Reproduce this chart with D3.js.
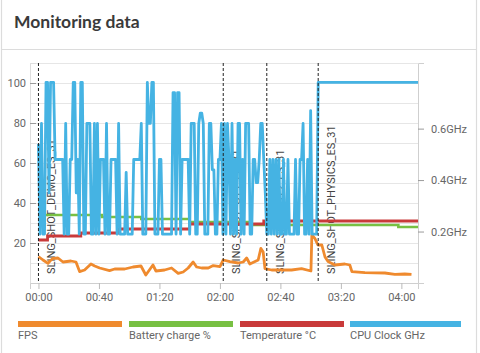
<!DOCTYPE html>
<html><head><meta charset="utf-8">
<script src="https://cdn.jsdelivr.net/npm/d3@7"></script>
<style>
html,body{margin:0;padding:0;background:#fff;}
svg{display:block;}
</style></head>
<body><svg id="c" width="480" height="353"></svg>
<script>
// ---- data ----
const title = "Monitoring data";
const xTickMinutes = [0, 40, 80, 120, 160, 200, 240];
const leftTicks = [20, 40, 60, 80, 100];
const rightTicks = [0.2, 0.4, 0.6];
const seriesNames = ["FPS", "Battery charge %", "Temperature °C", "CPU Clock GHz"];
const seriesColors = ["#ef8a2e", "#78c043", "#c93a3a", "#45b3e3"];

const markerMinutes = [0, 122.2, 151, 185];
const markerLabels = ["SLING_SHOT_DEMO_ES_31", "SLING_SHOT_GT1_ES_31", "SLING_SHOT_GT2_ES_31", "SLING_SHOT_PHYSICS_ES_31"];

const fpsMinutes = [0,3,6.3,7.6,9.6,12.9,16.2,21.5,24.8,27.2,30.5,34.7,37.2,40.5,47,50.4,57,62.5,67.8,71,75.7,77.7,83.4,88,92.4,95.7,99,102.3,104.6,107.9,112.3,115.6,120,122.2,126.6,132.1,135.4,137.7,139.8,145.3,147.1,148.6,149.8,154.2,159.7,167.4,174,180.2,180.8,182.8,184.8,187.4,189.5,191.5,196,202.6,205.9,207.3,215.9,229.1,235.7,242.3,246.7];
const fpsValues  = [13.2,11.5,9.8,11,12.3,12.5,10.5,11,10.5,5.7,6.5,9.5,8.5,7.5,6.2,7,7,8,8.5,4,9,6,6.5,7.5,4.8,5.5,7.5,10.5,8,7.5,7.5,8.7,8.2,11.5,10.7,10,10.5,12.5,9.5,11.5,17.3,15.5,7.2,6.5,6.5,6.5,7.2,6,24,22.3,19,19,13,10.7,9,9.5,9,5.7,5.2,5,4.3,4.5,4.3];

const batteryMinutes = [0, 42, 68, 100, 140, 238, 251];
const batteryValues  = [34, 33, 32, 30.5, 29, 28, 28];

const tempMinutes = [0, 6, 28, 53, 100, 149, 251];
const tempValues  = [21.5, 23.5, 25, 27, 29.5, 31, 31];

// CPU clock (GHz), one sample per minute from 00:00, last value held to the end
const cpuSampleStepMin = 1;
const cpuEndMinute = 251;
const cpuValues = [
0.54,0.19,0.62,0.19,0.19,0.78,0.78,0.35,0.78,0.78,
0.78,0.48,0.48,0.48,0.48,0.48,0.48,0.19,0.62,0.19,
0.19,0.48,0.48,0.78,0.78,0.35,0.48,0.19,0.78,0.78,
0.19,0.19,0.62,0.62,0.62,0.19,0.19,0.62,0.19,0.62,
0.19,0.48,0.48,0.48,0.19,0.62,0.19,0.19,0.48,0.48,
0.48,0.48,0.19,0.62,0.19,0.19,0.19,0.19,0.43,0.19,
0.19,0.19,0.19,0.48,0.48,0.48,0.48,0.48,0.62,0.19,
0.19,0.19,0.78,0.62,0.62,0.78,0.78,0.19,0.19,0.19,
0.48,0.48,0.19,0.19,0.19,0.19,0.19,0.19,0.19,0.74,
0.74,0.19,0.74,0.74,0.19,0.48,0.48,0.48,0.48,0.48,
0.19,0.62,0.62,0.62,0.19,0.19,0.62,0.66,0.66,0.62,
0.19,0.19,0.19,0.62,0.62,0.44,0.44,0.19,0.19,0.48,
0.48,0.62,0.19,0.62,0.19,0.62,0.48,0.19,0.62,0.19,
0.48,0.19,0.62,0.62,0.19,0.48,0.19,0.62,0.62,0.62,
0.19,0.19,0.48,0.48,0.39,0.39,0.48,0.62,0.62,0.48,
0.35,0.19,0.19,0.48,0.19,0.48,0.19,0.48,0.19,0.48,
0.19,0.19,0.48,0.19,0.19,0.48,0.19,0.19,0.19,0.19,
0.48,0.19,0.19,0.48,0.48,0.62,0.19,0.19,0.48,0.19,
0.67,0.19,0.19,0.19,0.19,0.78];

// ---- drawing ----
const svg = d3.select("#c");
const W = 480, H = 353;
const plot = {left: 30, right: 418, top: 63, bottom: 283};

// card
svg.append("rect").attr("x", 1.5).attr("y", -2).attr("width", 475).attr("height", H + 4)
  .attr("fill", "#fff").attr("stroke", "#dcdcdc").attr("stroke-width", 1.2);
svg.append("line").attr("x1", 1.5).attr("x2", 476.5).attr("y1", 49.5).attr("y2", 49.5)
  .attr("stroke", "#dcdcdc").attr("stroke-width", 1.2);
svg.append("text").attr("x", 14).attr("y", 28).text(title)
  .attr("font-family", "Lato, 'Open Sans', sans-serif").attr("font-weight", 700)
  .attr("font-size", 17.5).attr("fill", "#3a3a3a");

const x = d3.scaleLinear().domain([-5.6, 251]).range([plot.left, plot.right]);
const yL = d3.scaleLinear().domain([0, 110]).range([plot.bottom, plot.top]);
const yR = d3.scaleLinear().domain([0, 0.855]).range([plot.bottom, plot.top]);

const fontAxis = "Roboto, 'Noto Sans', sans-serif";

// horizontal gridlines every 10
svg.append("g").selectAll("line").data(d3.range(10, 111, 10)).join("line")
  .attr("x1", plot.left).attr("x2", plot.right)
  .attr("y1", d => Math.round(yL(d)) + 0.5).attr("y2", d => Math.round(yL(d)) + 0.5)
  .attr("stroke", "#e6e6e6").attr("stroke-width", 1);

// left axis
const gL = svg.append("g").attr("transform", `translate(${plot.left},0)`)
  .call(d3.axisLeft(yL).tickValues(leftTicks).tickSize(-6).tickPadding(4));
gL.select(".domain").attr("stroke", "#dedede");
gL.selectAll(".tick line").attr("stroke", "#9a9a9a");
gL.selectAll("text").attr("font-family", fontAxis).attr("font-size", 11).attr("fill", "#666");

// bottom axis
const fmt = m => String(Math.floor(m / 60)).padStart(2, "0") + ":" + String(m % 60).padStart(2, "0");
const gB = svg.append("g").attr("transform", `translate(0,${plot.bottom})`)
  .call(d3.axisBottom(x).tickValues(xTickMinutes).tickFormat(fmt).tickSize(6).tickPadding(4));
gB.select(".domain").attr("stroke", "#cfcfcf");
gB.selectAll(".tick line").attr("stroke", "#bbb");
gB.selectAll("text").attr("font-family", fontAxis).attr("font-size", 11).attr("fill", "#666");

// right axis
const gR = svg.append("g").attr("transform", `translate(${plot.right},0)`)
  .call(d3.axisRight(yR).tickValues(rightTicks).tickFormat(d => d + "GHz").tickSize(6).tickPadding(7));
gR.select(".domain").attr("stroke", "#cfcfcf");
gR.selectAll(".tick line").attr("stroke", "#9a9a9a");
gR.selectAll("text").attr("font-family", fontAxis).attr("font-size", 11).attr("fill", "#666");

// marker labels (under series)
svg.append("g").selectAll("text").data(markerMinutes).join("text")
  .attr("transform", d => `translate(${x(d) + 17},274) rotate(-90)`)
  .text((d, i) => markerLabels[i])
  .attr("font-family", fontAxis).attr("font-size", 11).attr("fill", "#444");

// series
const lineL = (ts, vs, curve) => d3.line().x((d, i) => x(ts[i])).y(d => yL(d)).curve(curve)(vs);
svg.append("path").attr("d", lineL(fpsMinutes, fpsValues, d3.curveLinear))
  .attr("fill", "none").attr("stroke", seriesColors[0]).attr("stroke-width", 2.8).attr("stroke-linejoin", "round");
svg.append("path").attr("d", lineL(batteryMinutes, batteryValues, d3.curveStepAfter))
  .attr("fill", "none").attr("stroke", seriesColors[1]).attr("stroke-width", 2.6);
svg.append("path").attr("d", lineL(tempMinutes, tempValues, d3.curveStepAfter))
  .attr("fill", "none").attr("stroke", seriesColors[2]).attr("stroke-width", 2.8);

const cpuPts = cpuValues.map((v, i) => [i * cpuSampleStepMin, v]);
cpuPts.push([cpuEndMinute, cpuValues[cpuValues.length - 1]]);
svg.append("path")
  .attr("d", d3.line().x(d => x(d[0])).y(d => yR(d[1]))(cpuPts))
  .attr("fill", "none").attr("stroke", seriesColors[3]).attr("stroke-width", 2.8).attr("stroke-linejoin", "round");

// marker lines
svg.append("g").selectAll("line").data(markerMinutes).join("line")
  .attr("x1", d => x(d)).attr("x2", d => x(d)).attr("y1", plot.top).attr("y2", plot.bottom)
  .attr("stroke", "#222").attr("stroke-width", 1).attr("stroke-dasharray", "3,2");

// legend
const legX = [18, 129, 240, 350];
const legW = [104, 104, 104, 111];
const leg = svg.append("g");
seriesNames.forEach((n, i) => {
  leg.append("rect").attr("x", legX[i]).attr("y", 321).attr("width", legW[i]).attr("height", 6)
    .attr("fill", seriesColors[i]);
  leg.append("text").attr("x", legX[i]).attr("y", 339).text(n)
    .attr("font-family", fontAxis).attr("font-size", 11).attr("fill", "#666");
});
</script></body></html>
